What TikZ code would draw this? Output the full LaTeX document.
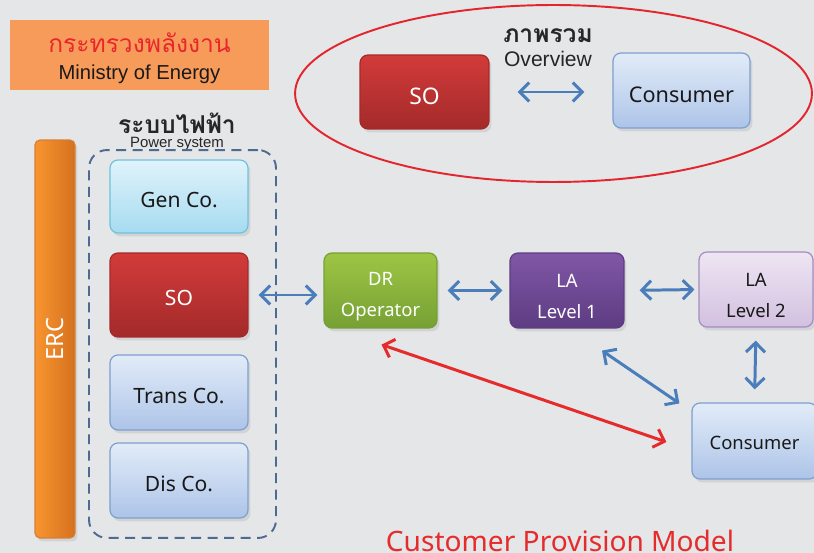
\documentclass[tikz,border=0pt]{standalone}
\usepackage{fontspec}
\setmainfont{Noto Sans}
\newfontfamily\thaifont[Script=Thai]{Loma}
\newfontfamily\arialfont{Liberation Sans}
\usepackage{tikz}
\usetikzlibrary{arrows.meta,positioning,calc,shapes.geometric,shadows}
\usepackage{xcolor}
\definecolor{bg}{HTML}{E5E6E8}
\definecolor{moe}{HTML}{F79B5B}
\definecolor{thred}{HTML}{E8262B}
\definecolor{ring}{HTML}{E3262E}
\definecolor{soT}{HTML}{D23B3A}
\definecolor{soB}{HTML}{A42A2A}
\definecolor{cuT}{HTML}{E2ECF8}
\definecolor{cuB}{HTML}{ADC4E8}
\definecolor{cuE}{HTML}{7E9FCF}
\definecolor{gnT}{HTML}{E0F3FB}
\definecolor{gnB}{HTML}{A6DBF1}
\definecolor{gnE}{HTML}{6EC2DE}
\definecolor{drT}{HTML}{9DC645}
\definecolor{drB}{HTML}{76A034}
\definecolor{l1T}{HTML}{8057A6}
\definecolor{l1B}{HTML}{5D3C82}
\definecolor{l2T}{HTML}{EEE6F3}
\definecolor{l2B}{HTML}{D2C0E0}
\definecolor{l2E}{HTML}{A68CBF}
\definecolor{ercL}{HTML}{F8952F}
\definecolor{ercR}{HTML}{D5711F}
\definecolor{flow}{HTML}{4A7EBB}
\definecolor{hot}{HTML}{E52B2B}
\definecolor{dash}{HTML}{4F6A8F}
\newcommand{\bigbox}{\fontsize{12}{14}\selectfont}
\newcommand{\midbox}{\fontsize{10.5}{13}\selectfont}
\newcommand{\lift}{\rule{0pt}{14.5pt}}

\begin{document}
\begin{tikzpicture}[x=0.02cm,y=-0.02cm,>={Straight Barb[length=1.9mm,width=3.8mm]},
  box/.style={rounded corners=1.6mm,line width=0.7pt,inner sep=0pt,align=center,text=black!90,
    drop shadow={opacity=0.18,shadow xshift=0.5mm,shadow yshift=-0.7mm}},
  low/.style={text height=#1,text depth=0pt},
  redbox/.style={box,draw=soB,top color=soT,bottom color=soB,text=white},
  bluebox/.style={box,draw=cuE,top color=cuT,bottom color=cuB},
  cyanbox/.style={box,draw=gnE,top color=gnT,bottom color=gnB},
  greenbox/.style={box,draw=drB,top color=drT,bottom color=drB,text=white},
  purplebox/.style={box,draw=l1B,top color=l1T,bottom color=l1B,text=white},
  lilacbox/.style={box,draw=l2E,top color=l2T,bottom color=l2B},
  link/.style={<->,draw=flow,line width=1.7pt},
  title/.style={anchor=base,align=center,inner sep=1pt,text=black!85}]
  \fill[bg] (0,0) rectangle (814,553);
  \useasboundingbox (0,0) rectangle (814,553);
  % ministry
  \node[fill=moe,minimum width=5.18cm,minimum height=1.4cm,inner sep=0pt] (moebox) at (139.5,55) {};
  \node[title,text=black!90,font=\arialfont\fontsize{11.5}{15.4}\selectfont] (moeName) at (139.5,80)
    {{\thaifont\color{thred}\fontsize{14}{15.4}\selectfont กระทรวงพลังงาน}\\Ministry of Energy};
  % overview
  \node[ellipse,draw=ring,line width=1.1pt,minimum width=10.34cm,minimum height=3.54cm] (overview) at (553.5,93.5) {};
  \node[title,font=\arialfont\fontsize{12}{13.4}\selectfont] (ovName) at (548,66.5)
    {{\thaifont\bfseries\fontsize{14}{13.4}\selectfont ภาพรวม}\\Overview};
  \node[redbox,font=\fontsize{13}{15}\selectfont,low=14.5pt,minimum width=2.58cm,minimum height=1.48cm] (soTop) at (424.5,92) {SO};
  \node[bluebox,font=\fontsize{12.3}{14}\selectfont,low=14pt,minimum width=2.74cm,minimum height=1.5cm] (cuTop) at (681.5,90.5) {Consumer};
  \draw[link,shorten <=0.56cm,shorten >=0.56cm] (soTop.east) -- (soTop.east -| cuTop.west);
  % power system
  \node[title,font=\arialfont\fontsize{8.5}{8.5}\selectfont] (psName) at (177,148)
    {{\thaifont\bfseries\fontsize{14}{8.5}\selectfont ระบบไฟฟ้า}\\Power system};
  \node[rounded corners=0.36cm,draw=dash,line width=1.1pt,dash pattern=on 0.2cm off 0.13cm,
    minimum width=3.74cm,minimum height=7.76cm] (power) at (182.5,344) {};
  \node[box,draw=ercR!90,left color=ercL,right color=ercR,rounded corners=1mm,minimum width=0.8cm,minimum height=7.96cm,
    label={[rotate=90,text=white,font=\fontsize{13.5}{15}\selectfont]center:ERC}] (erc) at (55,339) {};
  \node[cyanbox,font=\bigbox,low=12pt,minimum width=2.76cm,minimum height=1.46cm] (gen) at (179,196.5) {Gen Co.};
  \node[redbox,font=\bigbox,low=12pt,minimum width=2.76cm,minimum height=1.68cm] (so) at (179,295) {SO};
  \node[bluebox,font=\bigbox,low=12pt,minimum width=2.76cm,minimum height=1.5cm] (trans) at (179,392.5) {Trans Co.};
  \node[bluebox,font=\bigbox,low=12pt,minimum width=2.76cm,minimum height=1.5cm] (dis) at (179,480.5) {Dis Co.};
  % provision chain
  \node[greenbox,font=\midbox,minimum width=2.26cm,minimum height=1.5cm] (dr) at (380.5,290.5) {\lift DR\\[5pt]Operator};
  \node[purplebox,font=\midbox,minimum width=2.28cm,minimum height=1.5cm] (la1) at (567,290.5) {\lift LA\\[5pt]Level 1};
  \node[lilacbox,font=\midbox,minimum width=2.28cm,minimum height=1.5cm] (la2) at (756,289.5) {\lift LA\\[5pt]Level 2};
  \node[bluebox,font=\midbox,low=10pt,minimum width=2.5cm,minimum height=1.52cm] (cons) at (754.5,441) {Consumer};
  \draw[link,shorten <=0.2cm,shorten >=0.12cm] (so.east) -- (so.east -| dr.west);
  \draw[link,shorten <=0.2cm,shorten >=0.14cm] (dr.east) -- (la1.west);
  \draw[link,shorten <=0.3cm,shorten >=0.08cm] (la1.east) -- (la2.west);
  \draw[link,shorten <=0.26cm,shorten >=0.26cm] (la2.south) -- (cons.north);
  \draw[link] ($(la1.south)+(35,22)$) -- ($(cons.north west)+(-12,1)$);
  \draw[link,draw=hot] ($(dr.south)+(1,16)$) -- ($(cons.west)+(-25,1)$);
  \node[anchor=base,text=hot,font=\fontsize{16}{18}\selectfont] (model) at (560,551) {Customer Provision Model};
\end{tikzpicture}
\end{document}
